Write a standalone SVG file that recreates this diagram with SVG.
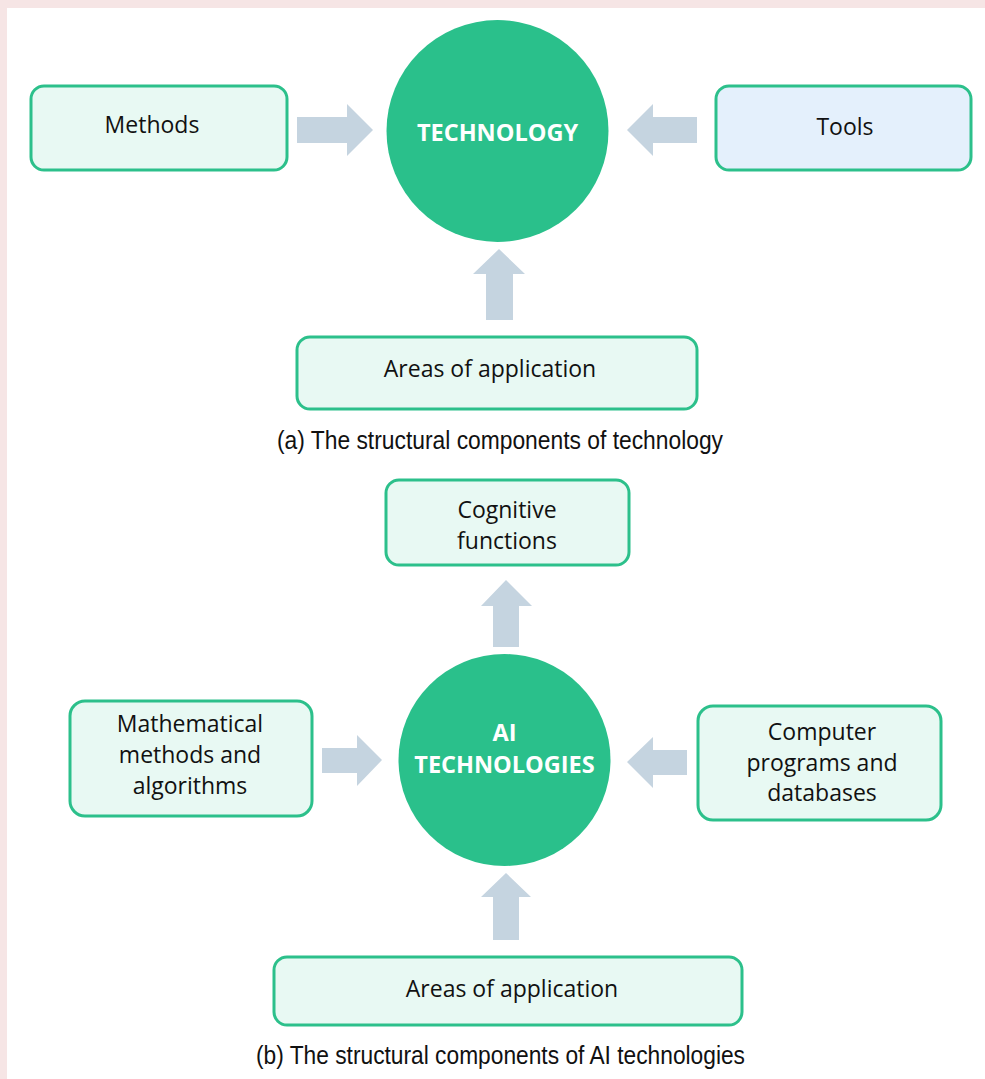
<svg xmlns="http://www.w3.org/2000/svg" width="985" height="1079" viewBox="0 0 985 1079">
<style>
.bg{fill:#f6e5e5}
.panel{fill:#ffffff}
.box{fill:#e8f9f3;stroke:#2cc08b;stroke-width:3}
.box2{fill:#e4f0fc;stroke:#2cc08b;stroke-width:3}
.hub{fill:#2ac08b}
.arr{fill:#c5d4e0}
.lbl{font-family:"Open Sans","Liberation Sans",sans-serif;font-size:23px;fill:#111;text-anchor:middle}
.hubt{font-family:"Open Sans","Liberation Sans",sans-serif;font-size:23.5px;font-weight:bold;fill:#fff;text-anchor:middle}
.cap{font-family:"Liberation Sans",Arial,sans-serif;font-size:25px;fill:#111}
</style>
<rect class="bg" x="0" y="0" width="985" height="1079"/>
<rect class="panel" x="7" y="8" width="978" height="1071"/>

<g id="connectors">
  <path class="arr" d="M297,117 H347 V104 L373,130 L347,156 V143 H297 Z"/>
  <path class="arr" d="M697,117 H653 V104 L627,130 L653,156 V143 H697 Z"/>
  <path class="arr" d="M486,320 V274 H473 L499,249 L525,274 H513 V320 Z"/>
  <path class="arr" d="M493,647 V606 H481 L506,580 L532,606 H519 V647 Z"/>
  <path class="arr" d="M322,748 H357 V735 L382,760 L357,786 V773 H322 Z"/>
  <path class="arr" d="M687,750 H653 V737 L627,762 L653,788 V775 H687 Z"/>
  <path class="arr" d="M493,940 V897 H481 L506,873 L531,897 H519 V940 Z"/>
</g>

<g id="technology">
  <circle class="hub" cx="497.5" cy="131" r="111"/>
  <text class="hubt" x="497.5" y="141">TECHNOLOGY</text>
</g>
<g id="methods">
  <rect class="box" x="31" y="86" width="256" height="84" rx="13"/>
  <text class="lbl" x="152" y="133">Methods</text>
</g>
<g id="tools">
  <rect class="box2" x="716" y="86" width="255" height="84" rx="13"/>
  <text class="lbl" x="845" y="135">Tools</text>
</g>
<g id="areas-a">
  <rect class="box" x="297" y="337" width="400" height="72" rx="13"/>
  <text class="lbl" x="490" y="377">Areas of application</text>
</g>
<text id="caption-a" class="cap" x="277" y="449" textLength="446" lengthAdjust="spacingAndGlyphs">(a) The structural components of technology</text>

<g id="cognitive">
  <rect class="box" x="386" y="480" width="243" height="85" rx="13"/>
  <text class="lbl" x="507" y="518">Cognitive</text>
  <text class="lbl" x="507" y="549">functions</text>
</g>
<g id="ai-technologies">
  <circle class="hub" cx="504.5" cy="760" r="106"/>
  <text class="hubt" x="504.5" y="741">AI</text>
  <text class="hubt" x="504.5" y="773">TECHNOLOGIES</text>
</g>
<g id="math">
  <rect class="box" x="70" y="701" width="242" height="115" rx="15"/>
  <text class="lbl" x="190" y="732">Mathematical</text>
  <text class="lbl" x="190" y="763">methods and</text>
  <text class="lbl" x="190" y="794">algorithms</text>
</g>
<g id="programs">
  <rect class="box" x="698" y="706" width="243" height="114" rx="15"/>
  <text class="lbl" x="822" y="740">Computer</text>
  <text class="lbl" x="822" y="771">programs and</text>
  <text class="lbl" x="822" y="801">databases</text>
</g>
<g id="areas-b">
  <rect class="box" x="274" y="957" width="468" height="68" rx="13"/>
  <text class="lbl" x="512" y="997">Areas of application</text>
</g>
<text id="caption-b" class="cap" x="256" y="1064" textLength="489" lengthAdjust="spacingAndGlyphs">(b) The structural components of AI technologies</text>
</svg>
